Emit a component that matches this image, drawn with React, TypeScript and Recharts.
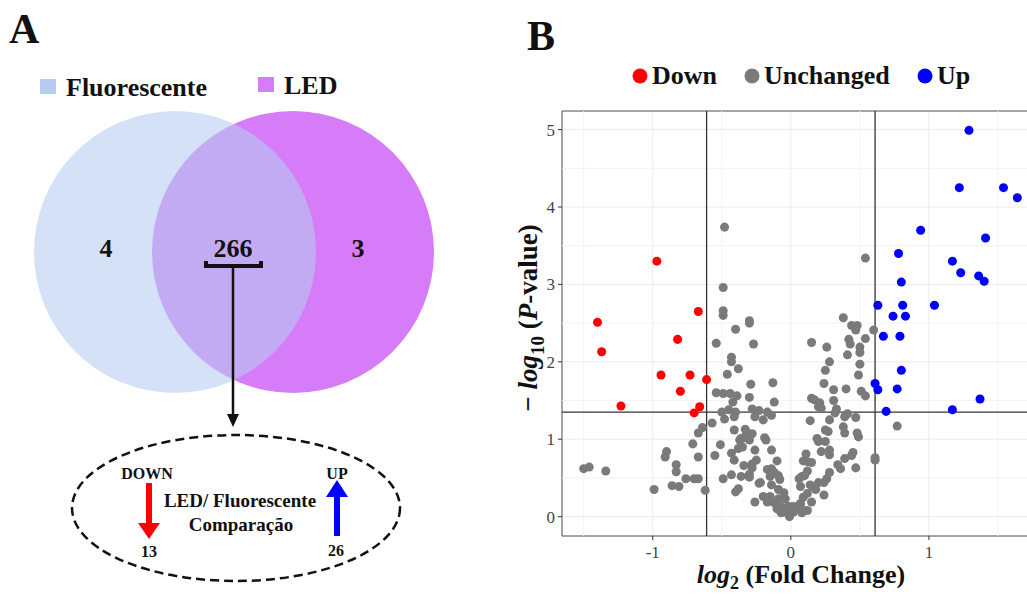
import React from "react";
import {
  ScatterChart,
  Scatter,
  XAxis,
  YAxis,
  ZAxis,
  CartesianGrid,
  ReferenceLine,
  ReferenceArea,
} from "recharts";

// ---- panel A data ----
const vennSets = ["Fluorescente", "LED"];
const vennCounts = [4, 266, 3]; // só Fluorescente, ambos, só LED
const compareLabels = ["DOWN", "UP"];
const compareCounts = [13, 26];

// ---- panel B data: [log2 FC, -log10 p] ----
const downPoints: number[][] = [
  [-1.4, 2.51], [-1.37, 2.13], [-1.23, 1.43], [-0.97, 3.3], [-0.94, 1.83],
  [-0.82, 2.29], [-0.8, 1.62], [-0.73, 1.83], [-0.67, 2.65], [-0.61, 1.77],
  [-0.66, 1.42], [-0.7, 1.34],
];

const upPoints: number[][] = [
  [1.29, 4.99], [1.22, 4.25], [1.54, 4.25], [1.64, 4.12], [0.94, 3.7],
  [1.41, 3.6], [0.78, 3.4], [1.17, 3.3], [1.23, 3.15], [1.36, 3.11],
  [1.4, 3.04], [0.8, 3.03], [0.63, 2.73], [0.81, 2.73], [1.04, 2.73],
  [0.74, 2.59], [0.83, 2.59], [0.67, 2.33], [0.79, 2.33], [0.8, 1.89],
  [0.61, 1.72], [0.63, 1.64], [0.77, 1.65], [1.37, 1.52], [0.69, 1.36],
  [1.17, 1.38],
];

const unchangedPoints: number[][] = [
  [-0.48, 3.74], [-0.49, 2.96], [-0.49, 2.66], [-0.49, 2.6], [-0.4, 2.42],
  [-0.3, 2.53], [-0.3, 2.5], [-0.54, 2.24], [-0.27, 2.23], [-0.43, 2.06],
  [-0.43, 2.0], [-0.38, 1.91],
  [0.54, 3.34], [0.38, 2.57], [0.44, 2.47], [0.48, 2.47], [0.47, 2.41],
  [0.6, 2.41], [0.15, 2.25], [0.26, 2.19], [0.42, 2.29], [0.43, 2.23],
  [0.54, 2.3], [0.5, 2.19], [0.5, 2.12], [0.41, 2.09], [0.28, 2.0],
  [0.5, 1.97], [0.25, 1.89],
  [-0.46, 1.84], [-0.29, 1.71], [-0.54, 1.6], [-0.49, 1.59], [-0.44, 1.59],
  [-0.39, 1.56], [-0.42, 1.48], [-0.3, 1.54], [-0.5, 1.35], [-0.45, 1.38],
  [-0.4, 1.35], [-0.48, 1.26], [-0.41, 1.29], [-0.28, 1.39], [-0.23, 1.37],
  [-0.26, 1.29], [-0.57, 1.21], [-0.64, 1.15], [-0.67, 1.08], [-0.41, 1.12],
  [-0.33, 1.13], [-0.32, 1.08], [-0.36, 1.01], [-0.3, 0.99], [-0.28, 1.07],
  [-0.71, 0.94], [-0.51, 0.93], [-0.9, 0.84], [-0.91, 0.77], [-0.67, 0.77],
  [-0.55, 0.79], [-0.43, 0.82], [-0.41, 0.73], [-0.38, 0.88], [-0.35, 0.9],
  [-0.26, 0.86], [-0.25, 0.73], [-0.34, 0.66], [-0.28, 0.68], [-0.28, 0.63],
  [-0.83, 0.67], [-0.83, 0.58], [-0.76, 0.49], [-0.7, 0.49], [-0.67, 0.49],
  [-0.49, 0.49], [-0.43, 0.54], [-0.36, 0.52], [-0.3, 0.51], [-0.3, 0.55],
  [-0.22, 0.44], [-0.86, 0.4], [-0.81, 0.39], [-0.99, 0.35], [-0.62, 0.34],
  [-0.4, 0.32], [-0.38, 0.36], [-0.26, 0.19], [-0.2, 0.26],
  [-1.5, 0.62], [-1.46, 0.64], [-1.34, 0.59],
  [-0.13, 1.73], [-0.17, 1.35], [-0.14, 1.31], [-0.2, 1.25], [-0.18, 0.99],
  [-0.23, 0.43], [-0.37, 0.99], [-0.34, 1.02], [-0.19, 1.02],
  [0.49, 1.83], [0.24, 1.72], [0.31, 1.64], [0.4, 1.65], [0.51, 1.62],
  [0.54, 1.56], [0.15, 1.53], [0.17, 1.51], [0.21, 1.47], [0.2, 1.42],
  [0.22, 1.4], [0.31, 1.5], [0.33, 1.39], [0.32, 1.34], [-0.12, 1.48],
  [0.14, 1.24], [0.28, 1.25], [0.39, 1.29], [0.41, 1.33], [0.47, 1.28],
  [0.38, 1.16], [0.39, 1.08], [0.48, 1.08], [0.49, 1.03], [0.25, 1.12],
  [0.27, 1.1], [0.25, 0.97], [0.19, 1.01], [0.2, 0.97], [-0.14, 0.86],
  [0.22, 0.84], [0.28, 0.86], [0.28, 0.8], [0.11, 0.81], [0.09, 0.72],
  [0.12, 0.71], [0.15, 0.7], [-0.1, 0.72], [0.45, 0.83], [0.44, 0.79],
  [0.39, 0.75], [0.61, 0.73], [0.61, 0.76], [0.34, 0.67], [0.36, 0.62],
  [0.47, 0.63], [0.28, 0.57], [0.12, 0.59], [0.08, 0.52], [0.06, 0.49],
  [0.1, 0.53], [0.26, 0.49], [0.24, 0.44], [0.2, 0.44], [0.07, 0.39],
  [0.14, 0.41], [0.16, 0.39], [0.18, 0.35], [0.24, 0.28], [0.12, 0.3],
  [0.09, 0.25], [0.15, 0.19], [0.07, 0.17], [0.04, 0.13], [0.12, 0.08],
  [-0.17, 0.61], [-0.14, 0.62], [-0.12, 0.57], [-0.15, 0.52], [-0.09, 0.53],
  [-0.08, 0.48], [-0.14, 0.41], [-0.09, 0.35], [-0.05, 0.31], [-0.15, 0.26],
  [-0.09, 0.23], [-0.04, 0.23], [-0.17, 0.19], [-0.12, 0.18], [-0.07, 0.13],
  [-0.02, 0.13], [0.01, 0.13], [-0.04, 0.06], [-0.01, 0.03], [0.02, 0.06],
  [-0.01, 0.0], [0.04, 0.1], [0.07, 0.12], [-0.07, 0.05], [-0.1, 0.1],
  [0.08, 0.05], [0.77, 1.17],
];

const xTicks = [-1, 0, 1];
const yTicks = [0, 1, 2, 3, 4, 5];
const xMinor = [-1.5, -0.5, 0.5, 1.5];
const yMinor = [0.5, 1.5, 2.5, 3.5, 4.5];
const fcCut = [-0.61, 0.61];
const pCut = 1.35;

const groups = [
  { name: "Down", color: "#ff0000", points: downPoints },
  { name: "Unchanged", color: "#7a7a7a", points: unchangedPoints },
  { name: "Up", color: "#0000ff", points: upPoints },
];

const FONT = "Liberation Serif, Times New Roman, serif";
const toRows = (pts: number[][]) => pts.map(([x, y]) => ({ x, y }));

// ---- layout (panel A), px ----
const VENN_CX = [175, 293];
const VENN_CY = 252;
const VENN_R = 141;
const COUNT_X = [106, 233, 358];
const vennFill = ["#b6ccf1", "#d67cf8"];

function XTick(p: any) {
  return (
    <text x={p.x} y={p.y + 16} textAnchor="middle" fontFamily={FONT} fontSize={17} fill="#444">
      {p.payload.value}
    </text>
  );
}

function YTick(p: any) {
  return (
    <text x={p.x - 1} y={p.y + 6} textAnchor="end" fontFamily={FONT} fontSize={17} fill="#444">
      {p.payload.value}
    </text>
  );
}

function VennPanel() {
  const circles = vennSets.map((name, i) => ({ x: VENN_CX[i], y: VENN_CY, name }));
  const counts = vennCounts.map((v, i) => ({ x: COUNT_X[i], y: 257, v }));
  return (
    <ScatterChart width={480} height={595} margin={{ top: 0, right: 0, bottom: 0, left: 0 }}>
      <XAxis type="number" dataKey="x" domain={[0, 480]} hide />
      <YAxis type="number" dataKey="y" domain={[0, 595]} reversed hide />
      {/* LED embaixo, Fluorescente por cima com transparência */}
      <Scatter
        data={[circles[1]]}
        isAnimationActive={false}
        shape={(p: any) => <circle cx={p.cx} cy={p.cy} r={VENN_R} fill={vennFill[1]} />}
      />
      <Scatter
        data={[circles[0]]}
        isAnimationActive={false}
        shape={(p: any) => (
          <circle cx={p.cx} cy={p.cy} r={VENN_R} fill={vennFill[0]} fillOpacity={0.59} />
        )}
      />
      <Scatter
        data={counts}
        isAnimationActive={false}
        shape={(p: any) => (
          <text
            x={p.cx}
            y={p.cy}
            textAnchor="middle"
            fontFamily={FONT}
            fontWeight="bold"
            fontSize={26}
            fill="#111"
          >
            {p.payload.v}
          </text>
        )}
      />
    </ScatterChart>
  );
}

function VolcanoPanel() {
  return (
    <ScatterChart width={600} height={480} margin={{ top: 11, right: 43, bottom: 0, left: 0 }}>
      <CartesianGrid stroke="#ebebeb" fill="none" />
      {xMinor.map((v) => (
        <ReferenceLine key={"mx" + v} x={v} stroke="#f3f3f3" />
      ))}
      {yMinor.map((v) => (
        <ReferenceLine key={"my" + v} y={v} stroke="#f3f3f3" />
      ))}
      <XAxis
        type="number"
        dataKey="x"
        domain={[-1.657, 1.797]}
        ticks={xTicks}
        interval={0}
        allowDataOverflow
        height={44}
        tickSize={4}
        axisLine={false}
        tickLine={{ stroke: "#333" }}
        tick={<XTick />}
      />
      <YAxis
        type="number"
        dataKey="y"
        domain={[-0.25, 5.24]}
        ticks={yTicks}
        interval={0}
        allowDataOverflow
        width={80}
        tickSize={4}
        axisLine={false}
        tickLine={{ stroke: "#333" }}
        tick={<YTick />}
      />
      <ZAxis range={[40, 40]} />
      <ReferenceArea
        x1={-1.657}
        x2={1.797}
        y1={-0.25}
        y2={5.24}
        fill="none"
        stroke="#555"
        strokeOpacity={1}
        ifOverflow="visible"
      />
      {fcCut.map((v) => (
        <ReferenceLine key={"fc" + v} x={v} stroke="#333" strokeWidth={1.3} />
      ))}
      <ReferenceLine y={pCut} stroke="#333" strokeWidth={1.3} />
      {groups.map((g) => (
        <Scatter
          key={g.name}
          name={g.name}
          data={toRows(g.points)}
          fill={g.color}
          isAnimationActive={false}
        />
      ))}
    </ScatterChart>
  );
}

function Overlay() {
  const bold = { fontFamily: FONT, fontWeight: "bold" as const, fill: "#111" };
  const legendX = [640, 752, 925];
  return (
    <svg
      width={1027}
      height={595}
      style={{ position: "absolute", left: 0, top: 0, pointerEvents: "none" }}
    >
      {/* painel A */}
      <text x={9} y={43} fontSize={42} {...bold}>A</text>
      <rect x={40} y={79} width={16} height={15} fill={vennFill[0]} />
      <text x={66} y={96} fontSize={26} {...bold}>{vennSets[0]}</text>
      <rect x={258} y={77} width={16} height={15} fill={vennFill[1]} />
      <text x={284} y={94} fontSize={26} {...bold}>{vennSets[1]}</text>

      {/* colchete + seta */}
      <path d="M206 261 V266 H261 V261" fill="none" stroke="#111" strokeWidth={4} />
      <line x1={233} y1={266} x2={233} y2={416} stroke="#111" strokeWidth={2.5} />
      <path d="M227 414 L239 414 L233 427 Z" fill="#111" />

      <ellipse
        cx={236}
        cy={508}
        rx={164}
        ry={73}
        fill="none"
        stroke="#111"
        strokeWidth={2.5}
        strokeDasharray="9 5"
      />
      <text x={147} y={479} fontSize={16} textAnchor="middle" {...bold}>{compareLabels[0]}</text>
      <text x={149} y={557} fontSize={16} textAnchor="middle" {...bold}>{compareCounts[0]}</text>
      <text x={337} y={479} fontSize={16} textAnchor="middle" {...bold}>{compareLabels[1]}</text>
      <text x={336} y={556} fontSize={16} textAnchor="middle" {...bold}>{compareCounts[1]}</text>
      <text x={240} y={507} fontSize={19} textAnchor="middle" {...bold}>LED/ Fluorescente</text>
      <text x={241} y={531} fontSize={19} textAnchor="middle" {...bold}>Comparação</text>
      {/* seta vermelha (down) */}
      <path d="M146 483 H152 V523 H160 L149 539 L138 523 H146 Z" fill="#ff0000" />
      {/* seta azul (up) */}
      <path d="M337 480 L348 497 H340 V536 H334 V497 H326 Z" fill="#0000ff" />

      {/* painel B */}
      <text x={527} y={50} fontSize={42} {...bold}>B</text>
      {groups.map((g, i) => (
        <g key={g.name}>
          <circle cx={legendX[i]} cy={76} r={7.5} fill={g.color} />
          <text x={legendX[i] + 12} y={84} fontSize={26} {...bold}>{g.name}</text>
        </g>
      ))}
      <text
        transform="translate(537,318) rotate(-90)"
        textAnchor="middle"
        fontSize={27}
        {...bold}
      >
        <tspan>− </tspan>
        <tspan fontStyle="italic">log</tspan>
        <tspan fontSize={19} dy={7}>10</tspan>
        <tspan dy={-7}> (</tspan>
        <tspan fontStyle="italic">P</tspan>
        <tspan>-value)</tspan>
      </text>
      <text x={801} y={583} textAnchor="middle" fontSize={26} {...bold}>
        <tspan fontStyle="italic">log</tspan>
        <tspan fontSize={18} dy={6}>2</tspan>
        <tspan dy={-6}> (Fold Change)</tspan>
      </text>
    </svg>
  );
}

export default function App() {
  return (
    <div
      style={{
        position: "fixed",
        left: 0,
        top: 0,
        width: 1027,
        height: 595,
        overflow: "hidden",
        background: "#fff",
        fontFamily: FONT,
      }}
    >
      <div style={{ position: "absolute", left: 0, top: 0 }}>
        <VennPanel />
      </div>
      <div style={{ position: "absolute", left: 482, top: 100 }}>
        <VolcanoPanel />
      </div>
      <Overlay />
    </div>
  );
}
